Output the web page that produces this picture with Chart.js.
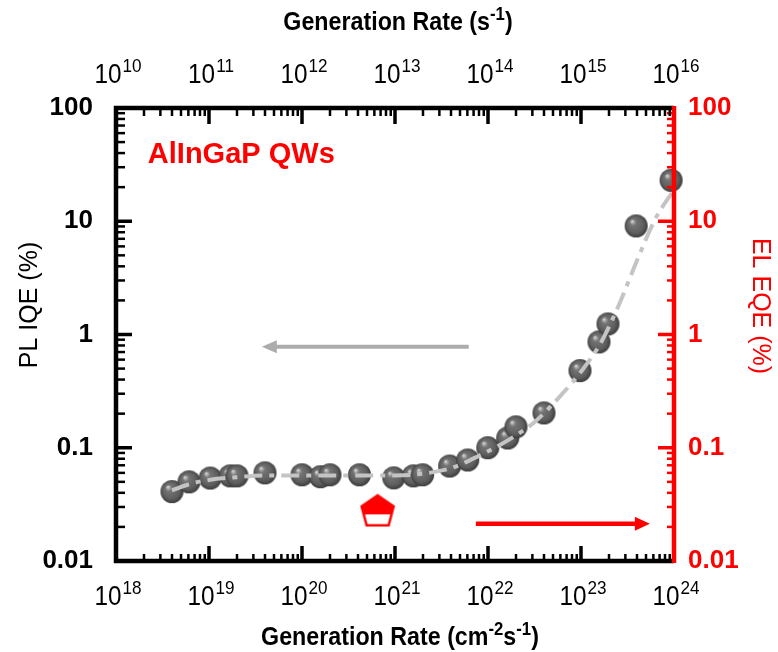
<!DOCTYPE html>
<html><head><meta charset="utf-8">
<script src="https://cdn.jsdelivr.net/npm/chart.js@4/dist/chart.umd.min.js"></script>
<style>html,body{margin:0;padding:0;background:#fff}#wrap{width:778px;height:652px}</style>
</head><body><div id="wrap"><canvas id="c" width="778" height="652"></canvas></div>
<script>
// ---- data ----
const genRate = [4.0e18, 6.1e18, 1.03e19, 1.69e19, 2.0e19, 4.0e19, 1.0e20, 1.58e20, 2.0e20, 4.15e20, 9.7e20, 1.58e21, 1.98e21, 3.87e21, 6.05e21, 9.95e21, 1.63e22, 2.0e22, 4.0e22, 9.75e22, 1.56e23, 1.95e23, 3.92e23, 9.3e23];
const plIQE   = [0.041, 0.050, 0.054, 0.0565, 0.0565, 0.060, 0.0577, 0.0555, 0.0577, 0.0577, 0.0542, 0.0565, 0.0577, 0.069, 0.078, 0.100, 0.122, 0.153, 0.203, 0.48, 0.86, 1.24, 9.1, 23];
const fitRate = [4e18, 6.3e18, 1e19, 2e19, 4e19, 1e20, 3.16e20, 1e21, 2e21, 4e21, 8e21, 1.6e22, 3.2e22, 6.3e22, 1e23, 1.6e23, 2.5e23, 4e23, 6.3e23, 1e24];
const fitIQE  = [0.042, 0.048, 0.052, 0.055, 0.057, 0.057, 0.057, 0.057, 0.059, 0.066, 0.085, 0.115, 0.17, 0.3, 0.47, 0.82, 1.75, 4.5, 10.5, 19];
const elRate = [6.5e20];
const elEQE  = [0.028];
const grayArrowX = [6.2e21, 3.7e19];
const grayArrowY = [0.78, 0.78];
const redArrowX = [7.4e21, 5.5e23];
const redArrowY = [0.0213, 0.0213];
const sampleLabel = 'AlInGaP QWs';
const sampleLabelPos = [2.2e18, 32.7];
const yTickVals = [0.01, 0.1, 1, 10, 100];
const yTickLabels = ['0.01', '0.1', '1', '10', '100'];
const xBottomVals = [1e18, 1e19, 1e20, 1e21, 1e22, 1e23, 1e24];
const xBottomExps = ['18', '19', '20', '21', '22', '23', '24'];
const xTopVals = [1e10, 1e11, 1e12, 1e13, 1e14, 1e15, 1e16];
const xTopExps = ['10', '11', '12', '13', '14', '15', '16'];
const bottomTitle = [['Generation Rate (cm', 0], ['-2', 1], ['s', 0], ['-1', 1], [')', 0]];
const topTitle = [['Generation Rate (s', 0], ['-1', 1], [')', 0]];
const leftTitle = 'PL IQE (%)';
const rightTitle = 'EL EQE (%)';

const FONT = '"Liberation Sans", Arial, sans-serif';
const RED = '#ff0000';

function makeBall(r) {
  const c = document.createElement('canvas');
  const s = 2 * r + 2; c.width = c.height = s;
  const g = c.getContext('2d'); const cx = s / 2, cy = s / 2;
  const grd = g.createRadialGradient(cx - r * 0.38, cy - r * 0.42, 0, cx, cy, r);
  grd.addColorStop(0, '#eeeeee');
  grd.addColorStop(0.12, '#b0b0b0');
  grd.addColorStop(0.28, '#747474');
  grd.addColorStop(0.75, '#5e5e5e');
  grd.addColorStop(1, '#3c3c3c');
  g.fillStyle = grd; g.beginPath(); g.arc(cx, cy, r, 0, Math.PI * 2); g.fill();
  return c;
}
function makePentagon() {
  const c = document.createElement('canvas');
  c.width = 36; c.height = 34;
  const g = c.getContext('2d');
  const pts = [[18, 2], [34, 13], [29, 32], [7, 32], [2, 13]];
  const path = () => { g.beginPath(); pts.forEach((p, i) => i ? g.lineTo(p[0], p[1]) : g.moveTo(p[0], p[1])); g.closePath(); };
  path(); g.fillStyle = '#fff'; g.fill();
  g.save(); path(); g.clip(); g.fillStyle = RED; g.fillRect(0, 0, 36, 21); g.restore();
  path(); g.strokeStyle = RED; g.lineWidth = 2.5; g.stroke();
  return c;
}

function drawPow(ctx, cx, baseY, exp, bf, ef, rise, sx, color) {
  ctx.font = bf; const wb = ctx.measureText('10').width * sx;
  ctx.font = ef; const we = ctx.measureText(exp).width * sx;
  const x0 = cx - (wb + we + 1) / 2;
  ctx.fillStyle = color; ctx.textBaseline = 'alphabetic'; ctx.textAlign = 'left';
  ctx.save(); ctx.translate(x0, baseY); ctx.scale(sx, 1); ctx.font = bf; ctx.fillText('10', 0, 0); ctx.restore();
  ctx.save(); ctx.translate(x0 + wb + 1, baseY - rise); ctx.scale(sx, 1); ctx.font = ef; ctx.fillText(exp, 0, 0); ctx.restore();
}
function drawRich(ctx, parts, cx, baseY, nf, sf, rise, sx, color) {
  let total = 0; const ws = [];
  parts.forEach(p => { ctx.font = p[1] ? sf : nf; const w = ctx.measureText(p[0]).width * sx; ws.push(w); total += w; });
  let x = cx - total / 2;
  ctx.fillStyle = color; ctx.textBaseline = 'alphabetic'; ctx.textAlign = 'left';
  parts.forEach((p, i) => {
    ctx.save(); ctx.translate(x, baseY - (p[1] ? rise : 0)); ctx.scale(sx, 1);
    ctx.font = p[1] ? sf : nf; ctx.fillText(p[0], 0, 0); ctx.restore();
    x += ws[i];
  });
}
function arrow(ctx, x1, y1, x2, y2, color, w, hl, hw) {
  const dir = Math.sign(x2 - x1);
  ctx.strokeStyle = color; ctx.fillStyle = color; ctx.lineWidth = w; ctx.lineCap = 'butt';
  ctx.beginPath(); ctx.moveTo(x1, y1); ctx.lineTo(x2 - dir * hl * 0.8, y2); ctx.stroke();
  ctx.beginPath(); ctx.moveTo(x2, y2); ctx.lineTo(x2 - dir * hl, y2 - hw); ctx.lineTo(x2 - dir * hl, y2 + hw); ctx.closePath(); ctx.fill();
}
function decadeTicks(lo, hi) {
  const major = [], minor = [];
  for (let e = lo; e <= hi; e++) {
    major.push(Math.pow(10, e));
    if (e < hi) for (let m = 2; m <= 9; m++) minor.push(m * Math.pow(10, e));
  }
  return { major, minor };
}

const decorPlugin = {
  id: 'decor',
  afterDatasetsDraw(chart) {
    const ctx = chart.ctx; const ca = chart.chartArea;
    const xB = chart.scales.x, xT = chart.scales.x2, yL = chart.scales.y, yR = chart.scales.y2;
    ctx.save();
    // arrows
    arrow(ctx, xB.getPixelForValue(grayArrowX[0]), yL.getPixelForValue(grayArrowY[0]),
      xB.getPixelForValue(grayArrowX[1]), yL.getPixelForValue(grayArrowY[1]), '#acacac', 4, 15, 6.5);
    arrow(ctx, xB.getPixelForValue(redArrowX[0]), yR.getPixelForValue(redArrowY[0]),
      xB.getPixelForValue(redArrowX[1]), yR.getPixelForValue(redArrowY[1]), RED, 4.5, 15, 7);
    // sample label
    ctx.fillStyle = RED; ctx.font = 'bold 29px ' + FONT; ctx.textAlign = 'left'; ctx.textBaseline = 'alphabetic';
    ctx.fillText(sampleLabel, xB.getPixelForValue(sampleLabelPos[0]), yL.getPixelForValue(sampleLabelPos[1]));

    const L = ca.left, R = ca.right, T = ca.top, B = ca.bottom;
    ctx.lineCap = 'butt';
    // ticks
    const yt = decadeTicks(-2, 2), xbt = decadeTicks(18, 24), xtt = decadeTicks(10, 16);
    const seg = (x1, y1, x2, y2, w, col) => { ctx.strokeStyle = col; ctx.lineWidth = w; ctx.beginPath(); ctx.moveTo(x1, y1); ctx.lineTo(x2, y2); ctx.stroke(); };
    yt.major.forEach(v => { const y = yL.getPixelForValue(v); seg(L, y, L + 16, y, 3.5, '#000'); });
    yt.minor.forEach(v => { const y = yL.getPixelForValue(v); seg(L, y, L + 9, y, 2.5, '#000'); });
    yt.major.forEach(v => { const y = yR.getPixelForValue(v); seg(R, y, R - 16, y, 3.5, RED); });
    yt.minor.forEach(v => { const y = yR.getPixelForValue(v); seg(R, y, R - 7, y, 2.5, RED); });
    xbt.major.forEach(v => { const x = xB.getPixelForValue(v); seg(x, B, x, B - 15, 3.5, '#000'); });
    xbt.minor.forEach(v => { const x = xB.getPixelForValue(v); seg(x, B, x, B - 7, 2.5, '#000'); });
    xtt.major.forEach(v => { const x = xT.getPixelForValue(v); seg(x, T, x, T + 16, 3.5, '#000'); });
    xtt.minor.forEach(v => { const x = xT.getPixelForValue(v); seg(x, T, x, T + 8, 2.5, '#000'); });
    // frame
    ctx.strokeStyle = '#000'; ctx.lineWidth = 4.5;
    ctx.beginPath(); ctx.moveTo(L, B + 2); ctx.lineTo(L, T); ctx.lineTo(R, T); ctx.stroke();
    ctx.beginPath(); ctx.moveTo(L - 2, B); ctx.lineTo(R, B); ctx.stroke();
    ctx.strokeStyle = RED; ctx.lineWidth = 4.5;
    ctx.beginPath(); ctx.moveTo(R, T - 2); ctx.lineTo(R, B + 2); ctx.stroke();

    // x tick labels with exponents
    xBottomVals.forEach((v, i) => drawPow(ctx, xB.getPixelForValue(v) + 2, B + 44, xBottomExps[i], '27px ' + FONT, '19px ' + FONT, 11, 0.9, '#000'));
    xTopVals.forEach((v, i) => drawPow(ctx, xT.getPixelForValue(v) + 2, T - 25, xTopExps[i], '27px ' + FONT, '19px ' + FONT, 11, 0.9, '#000'));
    // x titles
    drawRich(ctx, bottomTitle, 400, 645, 'bold 25px ' + FONT, 'bold 18px ' + FONT, 10, 0.93, '#000');
    drawRich(ctx, topTitle, 398, 30, 'bold 25px ' + FONT, 'bold 18px ' + FONT, 10, 0.93, '#000');
    // y titles
    ctx.font = '25px ' + FONT; ctx.textAlign = 'center'; ctx.textBaseline = 'middle';
    ctx.save(); ctx.translate(30, 305); ctx.rotate(-Math.PI / 2); ctx.fillStyle = '#000'; ctx.fillText(leftTitle, 0, 0); ctx.restore();
    ctx.save(); ctx.translate(760, 306); ctx.rotate(Math.PI / 2); ctx.fillStyle = RED; ctx.fillText(rightTitle, 0, 0); ctx.restore();
    ctx.restore();
  }
};

const yTicks = (color, pad) => ({
  color: color, padding: pad, autoSkip: false,
  font: { family: FONT, size: 26, weight: 'bold' },
  callback: (v) => { const i = yTickVals.indexOf(v); return i >= 0 ? yTickLabels[i] : ''; }
});
const setYTicks = (scale) => { scale.ticks = yTickVals.map(v => ({ value: v })); };

new Chart(document.getElementById('c'), {
  data: {
    datasets: [
      { type: 'line', label: 'fit', data: fitRate.map((x, i) => ({ x, y: fitIQE[i] })), xAxisID: 'x', yAxisID: 'y',
        borderColor: '#c4c4c4', borderWidth: 4, borderDash: [18, 7, 5, 7], pointRadius: 0, cubicInterpolationMode: 'monotone', order: 0, clip: false },
      { type: 'scatter', label: 'PL IQE', data: genRate.map((x, i) => ({ x, y: plIQE[i] })), xAxisID: 'x', yAxisID: 'y',
        pointStyle: makeBall(11.5), pointRadius: 11, order: 1, clip: false },
      { type: 'scatter', label: 'EL EQE', data: elRate.map((x, i) => ({ x, y: elEQE[i] })), xAxisID: 'x', yAxisID: 'y2',
        pointStyle: makePentagon(), pointRadius: 16, order: 1, clip: false }
    ]
  },
  options: {
    responsive: false, animation: false,
    layout: { padding: 0 },
    plugins: { legend: { display: false }, tooltip: { enabled: false } },
    scales: {
      x: { type: 'logarithmic', position: 'bottom', min: 1e18, max: 1e24,
        grid: { display: false, drawTicks: false }, border: { display: false }, ticks: { display: false },
        afterFit: s => { s.height = 91; } },
      x2: { type: 'logarithmic', position: 'top', min: 1e10, max: 1e16,
        grid: { display: false, drawTicks: false }, border: { display: false }, ticks: { display: false },
        afterFit: s => { s.height = 108; } },
      y: { type: 'logarithmic', position: 'left', min: 0.01, max: 100,
        grid: { display: false, drawTicks: false }, border: { display: false },
        ticks: yTicks('#000', 23), afterBuildTicks: setYTicks, afterFit: s => { s.width = 116; } },
      y2: { type: 'logarithmic', position: 'right', min: 0.01, max: 100,
        grid: { display: false, drawTicks: false }, border: { display: false },
        ticks: yTicks(RED, 14), afterBuildTicks: setYTicks, afterFit: s => { s.width = 104; } }
    }
  },
  plugins: [decorPlugin]
});
</script></body></html>
